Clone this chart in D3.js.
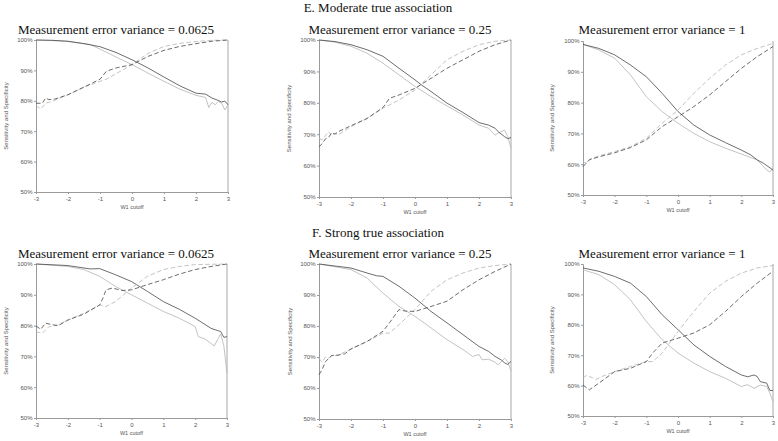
<!DOCTYPE html>
<html>
<head>
<meta charset="utf-8">
<script src="https://cdn.jsdelivr.net/npm/d3@7"></script>
<style>
html,body{margin:0;padding:0;background:#fff;}
svg{display:block;}
</style>
</head>
<body>
<svg id="chart" width="778" height="441"></svg>
<script>
// ---------- data ----------
const xTicks = [-3, -2, -1, 0, 1, 2, 3];
const yTicks = [50, 60, 70, 80, 90, 100];
const groupTitles = ["E. Moderate true association", "F. Strong true association"];
const panelTitles = [
  "Measurement error variance = 0.0625", "Measurement error variance = 0.25", "Measurement error variance = 1",
  "Measurement error variance = 0.0625", "Measurement error variance = 0.25", "Measurement error variance = 1"
];
const xLabel = "W1 cutoff";
const yLabel = "Sensitivity and Specificity";

// Panel 1 (moderate, 0.0625)
const p1DarkSolid = [[-3,100],[-2.5,99.9],[-2,99.6],[-1.5,98.8],[-1,97.8],[-0.5,95.9],[0,93.5],[0.5,90.8],[1,87.8],[1.5,84.9],[2,82.5],[2.3,82.2],[2.5,80.9],[2.7,80.1],[2.8,79.6],[2.9,79.9],[3,78.7]];
const p1GraySolid = [[-3,100],[-2.5,99.8],[-2,99.5],[-1.3,98.5],[-1,97],[-0.5,94.4],[0,91.9],[0.5,89.1],[1,86.4],[1.5,83.8],[2,81.8],[2.3,81.1],[2.4,77.8],[2.5,79.5],[2.6,78.7],[2.7,79.8],[2.8,79.2],[2.9,77],[3,78.6]];
const p1DarkDash = [[-3,79.2],[-2.8,79.2],[-2.7,80.9],[-2.6,80.4],[-2.4,80.6],[-2,82],[-1.5,84.5],[-1,87.1],[-0.8,89.7],[-0.5,90.8],[0,91.9],[0.5,94.6],[1,96.6],[1.5,97.9],[2,98.8],[2.5,99.6],[3,100]];
const p1GrayDash = [[-3,78.4],[-2.85,77.3],[-2.7,79.2],[-2.5,79.8],[-2,82],[-1.5,84.5],[-1,86.4],[-0.8,87.1],[-0.5,88.9],[0,91.9],[0.5,95.6],[1,97.9],[1.5,98.9],[2,99.5],[2.5,99.9],[3,100]];

// Panel 2 (moderate, 0.25)
const p2DarkSolid = [[-3,100],[-2.5,99.5],[-2,98.5],[-1.5,96.9],[-1,94.8],[-0.5,91],[0,87.3],[0.2,85.7],[0.5,83.6],[1,79.9],[1.5,76.9],[2,73.7],[2.3,72.9],[2.5,71.9],[2.6,70.8],[2.8,69.2],[2.9,68.6],[3,68.9]];
const p2GraySolid = [[-3,100],[-2.5,99.3],[-2,98],[-1.5,95.8],[-1,92.6],[-0.5,88.9],[0,85.2],[0.5,82],[1,79],[1.5,76.1],[2,72.9],[2.3,71.9],[2.5,69.7],[2.6,70.4],[2.8,71.3],[2.9,69.2],[3,65.5]];
const p2DarkDash = [[-3,66],[-2.9,67],[-2.8,68.5],[-2.7,69],[-2.6,70.5],[-2.5,70],[-2.4,70.8],[-2,72.7],[-1.5,75],[-1,78.5],[-0.8,81.4],[-0.5,82.5],[0,84.6],[0.5,87.8],[1,91],[1.5,93.7],[2,96.4],[2.5,98.5],[3,100]];
const p2GrayDash = [[-3,68.7],[-2.9,68.2],[-2.8,69.5],[-2.7,70.8],[-2.6,69.5],[-2.5,70.3],[-2.4,69.8],[-2,72.4],[-1.5,75],[-1,78.3],[-0.8,79.3],[-0.5,80.9],[0,84.1],[0.5,88.9],[1,93.7],[1.5,96.4],[2,98.5],[2.5,99.6],[3,100]];

// Panel 3 (moderate, 1)
const p3DarkSolid = [[-3,98.9],[-2.5,97.6],[-2,95.5],[-1.5,92.2],[-1,88.4],[-0.5,83],[0,77.1],[0.5,72.7],[1,69.5],[1.5,67],[2,64.6],[2.3,63],[2.5,61.4],[2.7,60.3],[3,58.1]];
const p3GraySolid = [[-3,98.9],[-2.5,97.1],[-2,94.4],[-1.5,89],[-1,81.9],[-0.5,77.1],[0,73.3],[0.5,70],[1,67.3],[1.5,65.2],[2,63.3],[2.5,61.4],[2.7,59.2],[2.8,58.1],[2.9,57.5],[3,58.7]];
const p3DarkDash = [[-3,59.2],[-2.9,60.3],[-2.8,61.4],[-2.5,62.4],[-2,63.7],[-1.5,65.4],[-1,67.9],[-0.5,72.2],[0,75.4],[0.5,78.7],[1,82.5],[1.5,86.8],[2,91.1],[2.5,94.9],[3,98.2]];
const p3GrayDash = [[-3,60.8],[-2.9,60.3],[-2.8,61.6],[-2.5,62.7],[-2,64.1],[-1.5,65.7],[-1,68.4],[-0.5,73.3],[0,77.6],[0.5,83],[1,87.9],[1.5,92.2],[2,95.5],[2.5,97.6],[3,99.2]];

// Panel 4 (strong, 0.0625)
const p4DarkSolid = [[-3,100],[-2,99.5],[-1.3,98.4],[-1,98.5],[-0.5,96.5],[0,94.3],[0.5,91.1],[1,87.8],[1.5,85.3],[2,82.4],[2.5,79.1],[2.7,78.4],[2.8,78.1],[2.9,76.2],[3,76.4]];
const p4GraySolid = [[-3,100],[-2,99.2],[-1.5,98.2],[-1,96],[-0.5,92.7],[0,90],[0.5,87.3],[1,84.6],[1.5,82.4],[2,79.7],[2.1,76.4],[2.3,75.7],[2.6,73.4],[2.8,77.3],[2.9,73.5],[3,64.5]];
const p4DarkDash = [[-3,79.9],[-2.85,78.8],[-2.7,80.8],[-2.5,80.3],[-2.3,80],[-2,81.8],[-1.5,83.7],[-1,86.7],[-0.9,88.9],[-0.8,91.6],[-0.6,92.2],[-0.3,91.4],[0,91.6],[0.5,93.3],[1,94.9],[1.5,96.7],[2,98.2],[2.5,99.2],[3,100]];
const p4GrayDash = [[-3,78],[-2.8,77.5],[-2.6,79.6],[-2.3,80.2],[-2,81.8],[-1.5,84],[-1,86.7],[-0.8,86.2],[-0.5,87.8],[0,92.2],[0.5,96],[1,98.2],[1.5,99.2],[2,99.8],[3,100]];

// Panel 5 (strong, 0.25)
const p5DarkSolid = [[-3,100],[-2,98.7],[-1.5,97.1],[-1.2,96.2],[-1,96],[-0.5,92.8],[0,89],[0.5,84.7],[1,81],[1.5,77.2],[2,73.4],[2.3,71.8],[2.5,70.2],[2.7,69],[2.8,68.1],[2.9,67.6],[3,68.6]];
const p5GraySolid = [[-3,100],[-2,98.2],[-1.5,95.5],[-1,90.6],[-0.5,86.3],[0,83.1],[0.5,79.4],[1,75.6],[1.5,72.4],[1.8,70.2],[2,70.8],[2.1,69.1],[2.3,69.3],[2.5,68.3],[2.6,67.5],[2.8,69.6],[2.9,68.5],[3,65.4]];
const p5DarkDash = [[-3,64.3],[-2.9,66],[-2.8,68.5],[-2.7,69.5],[-2.6,70.5],[-2.4,70.6],[-2.2,71],[-2,72.6],[-1.5,75],[-1,78.3],[-0.8,81],[-0.5,85.3],[-0.3,84.8],[0,84.7],[0.5,86.3],[1,88],[1.5,91.7],[2,94.9],[2.5,97.6],[3,100]];
const p5GrayDash = [[-3,69.5],[-2.9,68.3],[-2.8,70],[-2.7,69.7],[-2.6,70.3],[-2.4,70.6],[-2,72.6],[-1.5,75],[-1,77.7],[-0.8,77.7],[-0.5,80.4],[0,85.3],[0.5,91.2],[1,94.9],[1.5,97.1],[2,98.7],[2.5,99.5],[3,100]];

// Panel 6 (strong, 1)
const p6DarkSolid = [[-3,98.7],[-2.5,97.6],[-2,95.9],[-1.5,93.7],[-1,89.3],[-0.5,83.3],[0,78.4],[0.5,73.4],[1,69.6],[1.5,66.3],[2,63.5],[2.2,62.9],[2.4,63.5],[2.5,63],[2.6,61.3],[2.8,60.8],[2.9,58.4],[3,58.4]];
const p6GraySolid = [[-3,98.1],[-2.5,96.5],[-2,93.2],[-1.5,88.2],[-1,81.1],[-0.5,75.1],[0,70.7],[0.5,67.4],[1,64.6],[1.5,62.4],[2,59.7],[2.2,60.3],[2.4,59.1],[2.6,60.2],[2.8,59.7],[2.9,57.5],[3,54.7]];
const p6DarkDash = [[-3,60.2],[-2.8,58.6],[-2.5,60.8],[-2,64.6],[-1.5,65.7],[-1,67.9],[-0.8,70.7],[-0.5,74],[0,75.6],[0.5,77.3],[1,80],[1.5,84.4],[2,89.3],[2.5,93.7],[3,97.6]];
const p6GrayDash = [[-3,62.5],[-2.9,63.3],[-2.7,62.6],[-2.6,62],[-2.4,63],[-2,64.6],[-1.5,66.3],[-1,67.9],[-0.8,67.9],[-0.5,70.7],[0,77.8],[0.5,84.4],[1,90.4],[1.5,94.3],[2,97],[2.5,98.7],[3,99.5]];

// ---------- layout ----------
const panels = [
  {l:36,  r:228, t:40,  b:192, tx:116, ty:34,  ylx:8,   series:[p1GraySolid,p1DarkSolid,p1GrayDash,p1DarkDash]},
  {l:319, r:511, t:40,  b:197, tx:400, ty:34,  ylx:291, series:[p2GraySolid,p2DarkSolid,p2GrayDash,p2DarkDash]},
  {l:583, r:773, t:41,  b:195, tx:662, ty:34,  ylx:554, series:[p3GraySolid,p3DarkSolid,p3GrayDash,p3DarkDash]},
  {l:36,  r:227, t:264, b:418, tx:116, ty:258, ylx:8,   series:[p4GraySolid,p4DarkSolid,p4GrayDash,p4DarkDash]},
  {l:319, r:511, t:264, b:419, tx:400, ty:258, ylx:292, series:[p5GraySolid,p5DarkSolid,p5GrayDash,p5DarkDash]},
  {l:583, r:773, t:264, b:416, tx:662, ty:258, ylx:554, series:[p6GraySolid,p6DarkSolid,p6GrayDash,p6DarkDash]}
];
const styles = [
  {stroke:"#b4b4b4", dash:null},
  {stroke:"#484848", dash:null},
  {stroke:"#b4b4b4", dash:"4.5,2.5"},
  {stroke:"#484848", dash:"4.5,2.5"}
];

const svg = d3.select("#chart");
const serif = "'Liberation Serif','Times New Roman',serif";
const sans = "'Liberation Sans',Arial,sans-serif";

svg.append("text").attr("x", 378).attr("y", 12).attr("text-anchor","middle")
  .style("font-family", serif).style("font-size","13px").attr("fill","#111").text(groupTitles[0]);
svg.append("text").attr("x", 378).attr("y", 237).attr("text-anchor","middle")
  .style("font-family", serif).style("font-size","13px").attr("fill","#111").text(groupTitles[1]);

panels.forEach((p, i) => {
  const x = d3.scaleLinear().domain([-3, 3]).range([p.l, p.r]);
  const y = d3.scaleLinear().domain([50, 100]).range([p.b, p.t]);
  const g = svg.append("g");

  g.append("text").attr("x", p.tx).attr("y", p.ty).attr("text-anchor","middle")
    .style("font-family", serif).style("font-size","13px").attr("fill","#111").text(panelTitles[i]);

  // right border
  g.append("line").attr("x1", p.r).attr("x2", p.r).attr("y1", p.t).attr("y2", p.b)
    .attr("stroke","#a8a8a8").attr("stroke-width",1);

  const ya = g.append("g").attr("transform", `translate(${p.l},0)`)
    .call(d3.axisLeft(y).tickValues(yTicks).tickFormat(d => d + "%").tickSize(2).tickPadding(1.5));
  const xa = g.append("g").attr("transform", `translate(0,${p.b})`)
    .call(d3.axisBottom(x).tickValues(xTicks).tickFormat(d => d).tickSize(2).tickPadding(3));
  [ya, xa].forEach(a => {
    a.select(".domain").attr("stroke","#9a9a9a");
    a.selectAll(".tick line").attr("stroke","#9a9a9a");
    a.selectAll("text").style("font-family", sans).style("font-size","6px").attr("fill","#555");
  });

  g.append("text").attr("x", (p.l + p.r) / 2).attr("y", p.b + 17).attr("text-anchor","middle")
    .style("font-family", sans).style("font-size","5.5px").attr("fill","#555").text(xLabel);
  g.append("text").attr("transform", `translate(${p.ylx},${(p.t + p.b) / 2}) rotate(-90)`)
    .attr("text-anchor","middle").style("font-family", sans).style("font-size","6px")
    .attr("fill","#555").text(yLabel);

  const line = d3.line().x(d => x(d[0])).y(d => y(d[1]));
  p.series.forEach((s, k) => {
    g.append("path").datum(s).attr("d", line).attr("fill","none")
      .attr("stroke", styles[k].stroke).attr("stroke-width", 0.8)
      .attr("stroke-dasharray", styles[k].dash);
  });
});
</script>
</body>
</html>
